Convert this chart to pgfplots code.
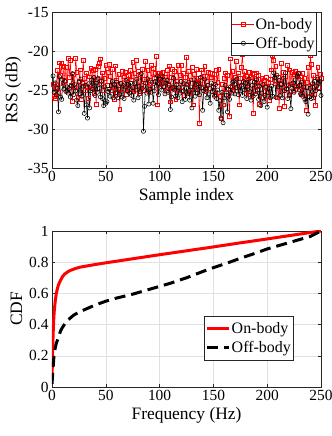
\documentclass[border=0pt]{standalone}
\usepackage{fontspec}
\setmainfont{Liberation Serif}
\usepackage{pgfplots}
\pgfplotsset{compat=1.18}
\usepackage{pgfplotstable}

\definecolor{axgray}{RGB}{38,38,38}
\definecolor{gridgray}{RGB}{225,225,225}

\pgfplotstableread{
idx on off
1 -24.3 -23.2
2 -25.8 -25.3
3 -26.1 -24.1
4 -24.6 -25.6
5 -22.5 -24.8
6 -25.3 -27.8
7 -21.5 -23.3
8 -23.1 -25.9
9 -21.6 -26.2
10 -24.2 -23.7
11 -22.0 -24.9
12 -23.8 -23.9
13 -22.1 -25.2
14 -25.1 -24.6
15 -20.9 -25.4
16 -23.4 -24.8
17 -21.2 -25.9
18 -24.4 -24.5
19 -26.4 -22.9
20 -23.0 -25.6
21 -24.7 -24.3
22 -20.9 -25.1
23 -22.7 -26.3
24 -25.9 -27.0
25 -23.9 -24.0
26 -22.4 -25.5
27 -26.2 -23.6
28 -24.1 -25.8
29 -21.2 -24.5
30 -23.5 -28.0
31 -25.0 -24.4
32 -22.8 -26.9
33 -24.6 -28.6
34 -26.1 -24.2
35 -23.3 -27.3
36 -22.2 -25.1
37 -24.8 -23.7
38 -22.5 -24.9
39 -25.4 -23.4
40 -22.3 -25.7
41 -26.8 -24.1
42 -23.6 -25.3
43 -22.0 -23.5
44 -21.6 -24.8
45 -21.0 -25.9
46 -24.2 -23.9
47 -22.8 -26.1
48 -25.0 -27.0
49 -23.5 -24.6
50 -21.8 -26.7
51 -24.4 -26.5
52 -22.7 -25.2
53 -21.7 -24.9
54 -23.2 -25.8
55 -25.1 -24.4
56 -22.3 -23.9
57 -24.7 -26.0
58 -26.2 -24.3
59 -21.9 -25.4
60 -23.8 -24.0
61 -25.3 -26.0
62 -23.0 -24.9
63 -27.5 -25.6
64 -24.1 -24.2
65 -22.6 -25.9
66 -24.9 -24.4
67 -23.3 -26.1
68 -22.7 -24.6
69 -25.5 -23.8
70 -24.0 -25.1
71 -23.1 -24.3
72 -24.8 -25.4
73 -22.5 -24.1
74 -23.7 -25.7
75 -21.4 -24.7
76 -25.2 -26.3
77 -22.9 -24.2
78 -21.2 -25.0
79 -24.5 -23.6
80 -22.6 -26.0
81 -25.4 -24.5
82 -23.0 -25.2
83 -24.4 -22.9
84 -22.3 -24.8
85 -25.0 -30.3
86 -23.6 -27.1
87 -21.3 -24.1
88 -24.1 -25.4
89 -22.5 -23.6
90 -25.2 -26.8
91 -23.8 -24.9
92 -21.8 -25.3
93 -24.6 -24.0
94 -22.2 -26.7
95 -23.5 -25.1
96 -22.9 -23.9
97 -20.7 -24.5
98 -26.9 -23.2
99 -22.9 -25.6
100 -24.3 -24.2
101 -22.8 -23.6
102 -24.0 -25.0
103 -22.7 -23.3
104 -24.5 -24.6
105 -23.3 -25.5
106 -25.1 -24.1
107 -22.5 -23.8
108 -24.2 -25.3
109 -21.9 -24.4
110 -26.5 -27.5
111 -23.4 -25.9
112 -22.3 -24.7
113 -24.8 -23.5
114 -22.6 -25.0
115 -26.2 -25.8
116 -23.9 -24.3
117 -21.8 -26.0
118 -25.0 -24.7
119 -23.1 -25.4
120 -21.8 -23.9
121 -24.6 -26.5
122 -22.9 -25.1
123 -25.7 -24.2
124 -23.4 -26.2
125 -20.8 -24.8
126 -24.2 -25.5
127 -22.6 -24.0
128 -25.3 -26.3
129 -23.7 -24.6
130 -22.1 -27.3
131 -26.9 -25.0
132 -23.0 -23.7
133 -24.9 -25.8
134 -22.3 -24.3
135 -24.1 -25.4
136 -23.5 -24.2
137 -29.3 -25.6
138 -23.8 -23.4
139 -22.4 -24.7
140 -24.6 -27.6
141 -23.2 -25.1
142 -22.0 -23.6
143 -25.2 -24.9
144 -23.9 -26.0
145 -22.7 -24.4
146 -24.8 -25.5
147 -22.9 -26.7
148 -23.4 -24.1
149 -22.9 -25.2
150 -24.7 -24.6
151 -23.0 -25.8
152 -25.5 -24.3
153 -22.5 -26.1
154 -24.0 -25.0
155 -22.3 -27.6
156 -25.8 -26.4
157 -28.7 -28.6
158 -24.3 -25.3
159 -26.9 -29.2
160 -23.5 -26.0
161 -22.8 -24.4
162 -24.9 -25.7
163 -23.1 -27.8
164 -25.6 -24.9
165 -28.4 -26.2
166 -21.0 -24.6
167 -24.5 -25.4
168 -22.6 -24.0
169 -25.1 -23.9
170 -23.3 -25.5
171 -21.3 -24.7
172 -24.7 -23.6
173 -22.8 -25.6
174 -26.9 -24.5
175 -23.5 -25.1
176 -22.1 -24.4
177 -20.4 -25.7
178 -24.0 -23.9
179 -22.6 -25.0
180 -25.4 -24.1
181 -23.2 -26.1
182 -24.9 -24.6
183 -22.7 -23.6
184 -25.6 -25.2
185 -23.4 -26.3
186 -22.9 -24.4
187 -28.0 -25.8
188 -23.0 -24.0
189 -25.2 -25.5
190 -22.8 -23.7
191 -24.4 -25.0
192 -23.1 -26.2
193 -26.8 -24.5
194 -24.1 -27.0
195 -23.5 -25.4
196 -25.9 -24.3
197 -23.8 -26.5
198 -24.6 -25.7
199 -23.4 -24.6
200 -25.3 -27.2
201 -24.0 -25.3
202 -26.3 -24.8
203 -23.6 -26.0
204 -22.4 -24.5
205 -20.5 -25.8
206 -21.2 -22.8
207 -24.2 -23.4
208 -22.0 -25.9
209 -26.0 -23.1
210 -23.3 -24.6
211 -27.3 -23.8
212 -24.1 -25.7
213 -21.6 -24.3
214 -25.0 -26.0
215 -22.7 -23.5
216 -27.1 -25.1
217 -23.2 -22.8
218 -24.8 -24.9
219 -21.8 -26.1
220 -25.7 -24.4
221 -22.4 -25.6
222 -24.2 -27.4
223 -22.7 -24.8
224 -25.1 -24.1
225 -23.0 -25.3
226 -22.6 -23.7
227 -24.5 -24.9
228 -23.2 -23.2
229 -22.8 -22.9
230 -24.9 -24.4
231 -23.3 -25.5
232 -25.6 -24.0
233 -22.9 -25.8
234 -24.7 -24.6
235 -23.5 -26.2
236 -27.6 -26.5
237 -24.0 -24.7
238 -22.1 -28.1
239 -25.8 -25.9
240 -20.5 -24.8
241 -21.7 -26.1
242 -24.5 -24.2
243 -23.1 -26.0
244 -25.5 -23.9
245 -27.0 -25.1
246 -23.4 -24.5
247 -22.1 -23.6
248 -24.6 -24.1
249 -23.0 -23.9
250 -23.5 -25.7
}\rsstable

\pgfplotstableread{
f cdf
0 0.05
0.5 0.2
1 0.33
1.5 0.42
2 0.48
3 0.55
4 0.60
5 0.63
6 0.655
8 0.685
10 0.71
12 0.725
15 0.74
18 0.75
22 0.76
26 0.768
30 0.773
40 0.785
50 0.796
75 0.822
100 0.848
125 0.873
150 0.898
175 0.924
200 0.949
225 0.975
250 1.0
}\oncdf

\pgfplotstableread{
f cdf
0 0.02
0.5 0.07
1 0.12
1.5 0.17
2 0.21
3 0.25
4 0.28
5 0.30
6 0.32
8 0.36
10 0.385
12 0.405
15 0.43
20 0.46
25 0.48
30 0.495
40 0.525
50 0.55
60 0.57
75 0.595
90 0.625
100 0.645
110 0.665
125 0.70
140 0.74
150 0.765
165 0.80
175 0.825
190 0.86
200 0.885
215 0.915
225 0.935
240 0.965
250 1.0
}\offcdf

\pgfplotsset{
 mystyle/.style={
  scale only axis, width=269bp, height=156bp,
  axis line style={axgray, line width=0.5pt},
  tick style={axgray, line width=0.5pt},
  major tick length=3bp,
  tick align=inside,
  grid=major, major grid style={gridgray, line width=0.4pt},
  ticklabel style={font=\fontsize{15.5}{16}\selectfont, text=black},
  label style={font=\fontsize{17.5}{19}\selectfont},
  /pgf/number format/assume math mode=true,
  xmin=0, xmax=250, xtick={0,50,...,250},
  legend cell align=left,
  legend image code/.code={\draw[mark repeat=2,mark phase=2,##1] plot coordinates {(0bp,0bp) (11bp,0bp) (22bp,0bp)};},
  legend style={font=\fontsize{16}{18}\selectfont, draw=axgray, line width=0.5pt,
    inner xsep=1bp, inner ysep=2.5bp,
    nodes={inner xsep=1bp, inner ysep=3.2bp}},
 }
}

\begin{document}
\begin{tikzpicture}
\begin{axis}[mystyle, at={(0bp,219bp)}, anchor=south west,
  ymin=-35, ymax=-15, ytick={-35,-30,...,-15},
  xlabel={Sample index}, ylabel={RSS (dB)},
  legend style={at={(0.985,1)}, anchor=north east}]
\addplot[color=red, line width=0.55pt, mark=square, mark size=1.9bp, mark options={solid, draw=red}] table[x=idx, y=on] {\rsstable};
\addlegendentry{On-body}
\addplot[color=black, line width=0.55pt, mark=o, mark size=2.1bp, mark options={solid, draw=black}] table[x=idx, y=off] {\rsstable};
\addlegendentry{Off-body}
\end{axis}
\begin{axis}[mystyle, at={(0bp,0bp)}, anchor=south west,
  ymin=0, ymax=1, ytick={0,0.2,...,1},
  xlabel={Frequency (Hz)}, ylabel={CDF},
  legend style={at={(0.896,0.173)}, anchor=south east}]
\addplot[red, line width=3bp] table[x=f, y=cdf] {\oncdf};
\addlegendentry{On-body}
\addplot[black, line width=3bp, dash pattern=on 11bp off 6bp] table[x=f, y=cdf] {\offcdf};
\addlegendentry{Off-body}
\end{axis}
\pgfresetboundingbox
\path[use as bounding box] (-52bp,-49bp) rectangle (280bp,387bp);
\end{tikzpicture}
\end{document}
